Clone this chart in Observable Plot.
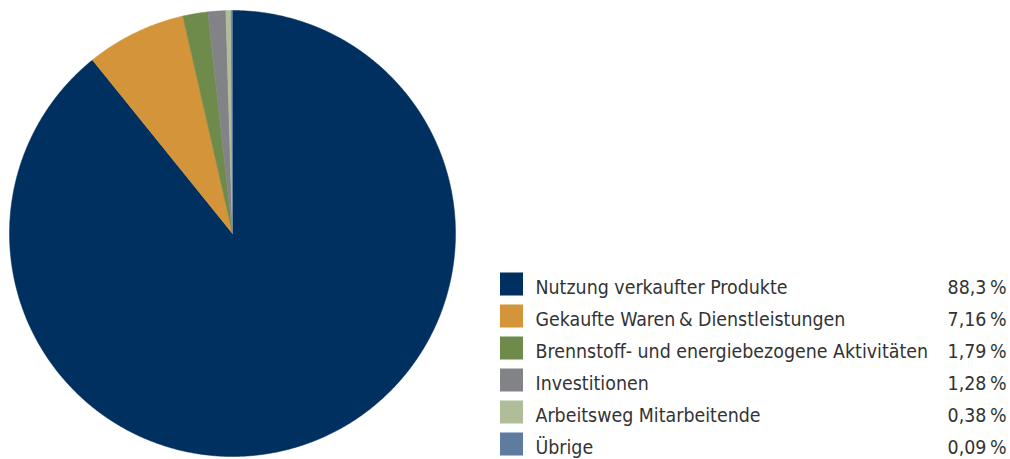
<!DOCTYPE html>
<html>
<head>
<meta charset="utf-8">
<script src="https://cdn.jsdelivr.net/npm/d3@7"></script>
<script src="https://cdn.jsdelivr.net/npm/@observablehq/plot@0.6"></script>
<style>
  html, body { margin: 0; padding: 0; background: #fff; }
  #wrap { position: relative; width: 1010px; height: 459px; }
  #pie { position: absolute; left: 0; top: 0; }
  #legend { position: absolute; left: 490px; top: 262px; }
</style>
</head>
<body>
<div id="wrap"><div id="pie"></div><div id="legend"></div></div>
<script>
const categories = [
  "Nutzung verkaufter Produkte",
  "Gekaufte Waren\u2009& Dienstleistungen",
  "Brennstoff- und energiebezogene Aktivitäten",
  "Investitionen",
  "Arbeitsweg Mitarbeitende",
  "Übrige"
];
const values = [88.3, 7.16, 1.79, 1.28, 0.38, 0.09];
const valueLabels = ["88,3\u202F%", "7,16\u202F%", "1,79\u202F%", "1,28\u202F%", "0,38\u202F%", "0,09\u202F%"];
const colors = ["#00305f", "#d4953a", "#6f8b4b", "#828386", "#afbe99", "#5f7ba0"];

const table = categories.map((c, i) => ({category: c, value: values[i], label: valueLabels[i]}));

// Build slice polygons (clockwise from top) from the data
const total = d3.sum(values);
const pts = [];
let acc = 0;
table.forEach(d => {
  const a0 = acc / total * 2 * Math.PI;
  acc += d.value;
  const a1 = acc / total * 2 * Math.PI;
  const n = Math.max(2, Math.ceil((a1 - a0) / 0.005));
  pts.push({category: d.category, x: 0, y: 0});
  for (let k = 0; k <= n; k++) {
    const a = a0 + (a1 - a0) * k / n;
    pts.push({category: d.category, x: Math.sin(a), y: Math.cos(a)});
  }
  pts.push({category: d.category, x: 0, y: 0});
});

const color = {domain: categories, range: colors};

const pie = Plot.plot({
  width: 465, height: 459,
  marginLeft: 9, marginRight: 10, marginTop: 10, marginBottom: 3,
  x: {domain: [-1, 1], axis: null},
  y: {domain: [-1, 1], axis: null},
  color,
  marks: [
    Plot.line(pts, {x: "x", y: "y", z: "category", fill: "category", stroke: "category", strokeWidth: 0.5, curve: "linear"})
  ]
});
document.getElementById("pie").appendChild(pie);

const legend = Plot.plot({
  width: 520, height: 197,
  margin: 0,
  x: {type: "identity", axis: null},
  y: {type: "band", domain: categories, range: [5.5, 197.5], padding: 0, axis: null},
  color,
  style: {fontFamily: "'DejaVu Sans Condensed', 'DejaVu Sans', sans-serif", fontSize: "19.4px", color: "#333"},
  marks: [
    Plot.barX(table, {y: "category", x1: () => 10, x2: () => 33, fill: "category", insetTop: 4.5, insetBottom: 4.5}),
    Plot.text(table, {y: "category", x: () => 45, text: "category", textAnchor: "start", fill: "#333", fontSize: 19.4, dy: 3}),
    Plot.text(table, {y: "category", x: () => 516, text: "label", textAnchor: "end", fill: "#333", fontSize: 19.4, dy: 3})
  ]
});
document.getElementById("legend").appendChild(legend);
</script>
</body>
</html>
